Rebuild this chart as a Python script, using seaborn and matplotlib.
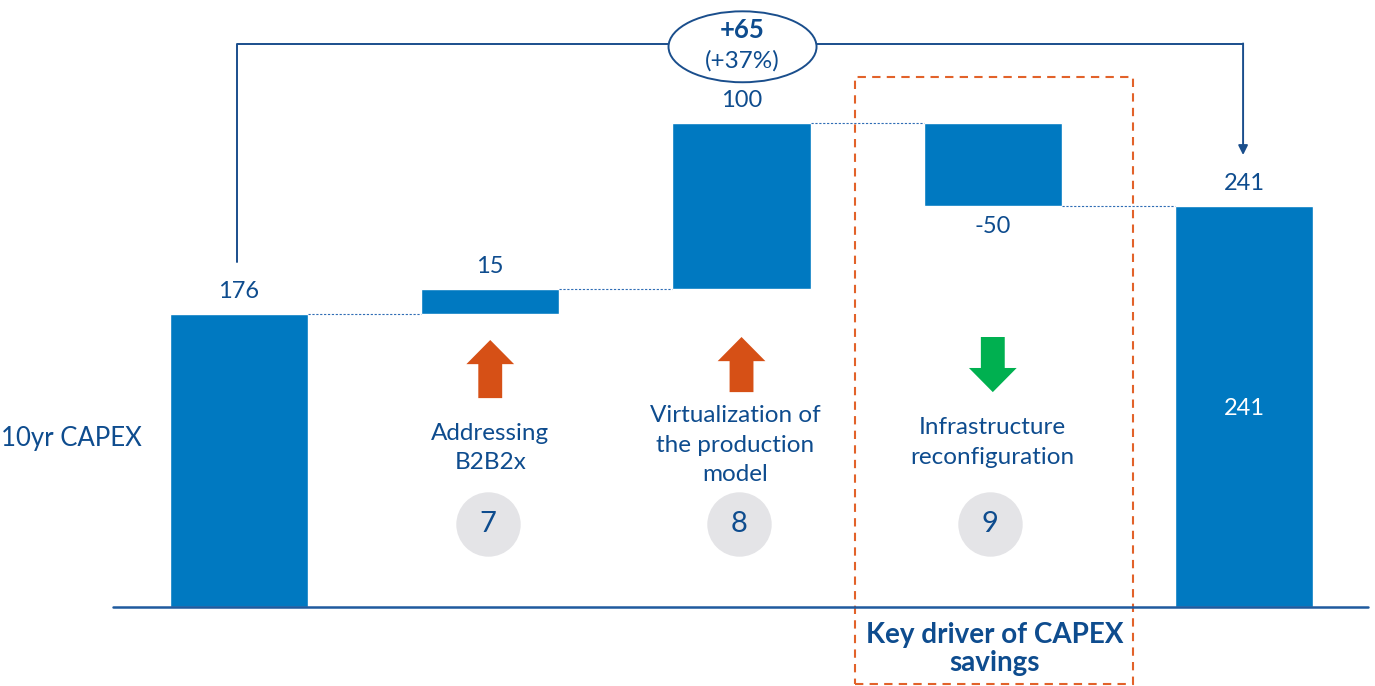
import numpy as np
import matplotlib
matplotlib.use("Agg")
import matplotlib.pyplot as plt
import seaborn as sns
from matplotlib.patches import Ellipse, FancyArrow, Rectangle

# data
categories = ["10yr CAPEX", "Addressing B2B2x", "Virtualization", "Infrastructure", "Total"]
steps = [176, 15, 100, -50, 241]
value_labels = ["176", "15", "100", "-50", "241"]
driver_texts = ["Addressing\nB2B2x", "Virtualization of\nthe production\nmodel", "Infrastructure\nreconfiguration"]
driver_ids = ["7", "8", "9"]
delta_text = "+65"
delta_pct = "(+37%)"

sns.set_theme(style="white")
plt.rcParams["font.family"] = ["Lato", "DejaVu Sans"]

BLUE = "#0079C1"
NAVY = "#0E4C8E"
ORANGE = "#D65016"
GREEN = "#00B050"

# waterfall bottoms / heights
bottoms, heights = [], []
level = 0
for i, s in enumerate(steps):
    if i == 0 or i == len(steps) - 1:
        bottoms.append(0)
        heights.append(s)
        level = s
    else:
        if s >= 0:
            bottoms.append(level)
            heights.append(s)
        else:
            bottoms.append(level + s)
            heights.append(-s)
        level += s

fig = plt.figure(figsize=(13.75, 6.86), dpi=100)
ax = fig.add_axes([0, 0, 1, 1])
sns.barplot(x=categories, y=heights, bottom=bottoms, color=BLUE, width=0.55,
            saturation=1, ax=ax)
ax.set_xlim(-0.951, 4.521)
ax.set_ylim(-47.4, 364.6)
ax.axis("off")

# baseline
ax.plot([-0.501, 4.493], [0, 0], color="#1F5A9E", lw=1.8)

# connectors
w = 0.275
tops = [b + h for b, h in zip(bottoms, heights)]
lvl = 0
for i in range(len(steps) - 1):
    lvl = steps[0] if i == 0 else lvl + steps[i]
    ax.plot([i + w, i + 1 - w], [lvl, lvl], color="#2F6DB5", lw=0.8, ls=(0, (2, 1.5)))

# value labels
for i in range(len(steps)):
    if steps[i] < 0 and 0 < i < len(steps) - 1:
        ax.text(i, bottoms[i] - 6, value_labels[i], ha="center", va="top", fontsize=17, color=NAVY)
    else:
        ax.text(i, tops[i] + 7, value_labels[i], ha="center", va="bottom", fontsize=17, color=NAVY)
ax.text(4, heights[4] * 0.494, value_labels[4], ha="center", va="center", fontsize=17, color="white")
ax.text(-0.951 + 0.005, 101, categories[0], ha="left", va="center", fontsize=18.5, color=NAVY)

# driver arrows, texts, circles
arrow_y = [(125.5, 160.4), (129.1, 162.2), (162.2, 129.1)]
text_y = [95.5, 97.3, 98.8]
for k, i in enumerate([1, 2, 3]):
    y0, y1 = arrow_y[k]
    col = GREEN if steps[i] < 0 else ORANGE
    ax.add_patch(FancyArrow(i, y0, 0, y1 - y0, width=0.095, head_width=0.19,
                            head_length=14.5, length_includes_head=True,
                            color=col, lw=0))
    ax.text(i - (0.025 if i == 2 else 0), text_y[k], driver_texts[k], ha="center", va="center",
            fontsize=17.5, color=NAVY, linespacing=1.5)
    ax.scatter([i - 0.01], [50], s=2150, color="#E4E4E7", zorder=3, linewidths=0)
    ax.text(i - 0.01, 50, driver_ids[k], ha="center", va="center", fontsize=21, color=NAVY, zorder=4)

# dashed highlight box
ax.add_patch(Rectangle((2.451, -46.2), 1.106, 364.5, fill=False,
                       ec="#E2622A", lw=1.5, ls=(0, (4, 3))))
ax.text(3.008, -25, "Key driver of CAPEX\nsavings", ha="center", va="center", fontsize=20,
        fontweight="bold", color=NAVY, linespacing=1.08)

# top bracket
top_y = 338.1
ax.plot([-0.008, -0.008, 3.996], [207.2, top_y, top_y], color="#1A4E8C", lw=1.4)
ax.annotate("", xy=(3.996, 271.5), xytext=(3.996, top_y + 0.4),
            arrowprops=dict(arrowstyle="-|>", color="#1A4E8C", lw=1.4, mutation_scale=14,
                            shrinkA=0, shrinkB=0))
ax.add_patch(Ellipse((2.004, 336.5), 0.589, 42.6, fc="white", ec="#1A4E8C", lw=1.4, zorder=5))
ax.text(2.004, 346.5, delta_text, ha="center", va="center", fontsize=18.5, fontweight="bold",
        color=NAVY, zorder=6)
ax.text(2.004, 328.0, delta_pct, ha="center", va="center", fontsize=17.5, color=NAVY, zorder=6)

fig.savefig("out.png", dpi=100, facecolor="white")
